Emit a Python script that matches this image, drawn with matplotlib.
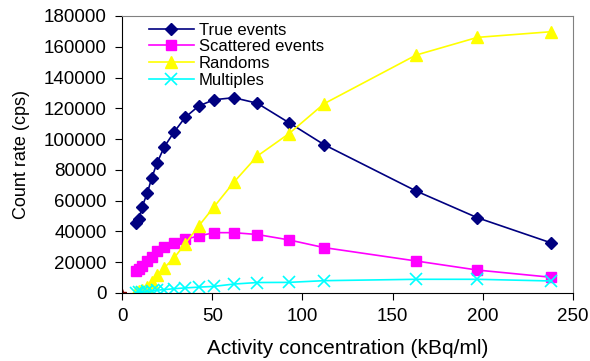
import matplotlib

matplotlib.use("Agg")
import matplotlib.pyplot as plt

plt.rcParams["font.family"] = ["Liberation Sans", "DejaVu Sans"]

# Activity concentration (kBq/ml)
activity = [8, 9.5, 11, 14, 16.5, 19.5, 23.5, 29, 35, 42.5, 51, 62, 75, 92.5, 112, 163, 197, 238]

true_events = [45300, 47900, 55700, 64800, 74900, 84700, 95100, 104800, 114100, 121500,
               125600, 126900, 123300, 110700, 96400, 66300, 48900, 32500]
scattered = [14500, 15500, 17500, 20500, 23500, 27000, 30000, 32500, 35000, 37000,
             39200, 39200, 38000, 34500, 29500, 20800, 14900, 10200]
randoms = [500, 1000, 2000, 4000, 7000, 11500, 16500, 23000, 32000, 43500,
           56000, 72000, 89000, 103500, 123000, 154600, 166100, 169800]
multiples = [300, 500, 700, 1000, 1400, 1800, 2200, 2800, 3300, 3800,
             4300, 5800, 6800, 6900, 8000, 8900, 8900, 7800]

x_ticks = [0, 50, 100, 150, 200, 250]
y_ticks = list(range(0, 180001, 20000))

fig = plt.figure(figsize=(5.9, 3.61), dpi=100)
ax = fig.add_axes([0.2068, 0.1884, 0.7644, 0.7673])

ax.plot(activity, true_events, color="#000080", marker="D", markersize=6.5, lw=1.2, label="True events")
ax.plot(activity, scattered, color="#FF00FF", marker="s", markersize=7, lw=1.2, label="Scattered events")
ax.plot(activity, randoms, color="#FFFF00", marker="^", markersize=8, lw=1.2, label="Randoms")
ax.plot(activity, multiples, color="#00FFFF", marker="x", markersize=8, mew=1.2, lw=1.2, label="Multiples")
# marker cluster at the origin
ax.plot([0], [0], marker="*", color="#800000", markersize=6, ls="none")

ax.set_xlim(0, 250)
ax.set_ylim(0, 180000)
ax.set_xticks(x_ticks)
ax.set_yticks(y_ticks)
ax.tick_params(axis="both", direction="out", length=5, labelsize=13.5, pad=6)
for side in ("top", "right"):
    ax.spines[side].set_color("#808080")
ax.tick_params(top=False, right=False)

ax.set_xlabel("Activity concentration (kBq/ml)", fontsize=15, labelpad=10)
ax.set_ylabel("Count rate (cps)", fontsize=13, labelpad=10)

ax.legend(loc="upper left", frameon=False, fontsize=12, handlelength=2.7,
          handletextpad=0.3, labelspacing=0.1, borderaxespad=0.0,
          bbox_to_anchor=(0.045, 1.0))

fig.savefig("out.png", dpi=100)
plt.close(fig)
